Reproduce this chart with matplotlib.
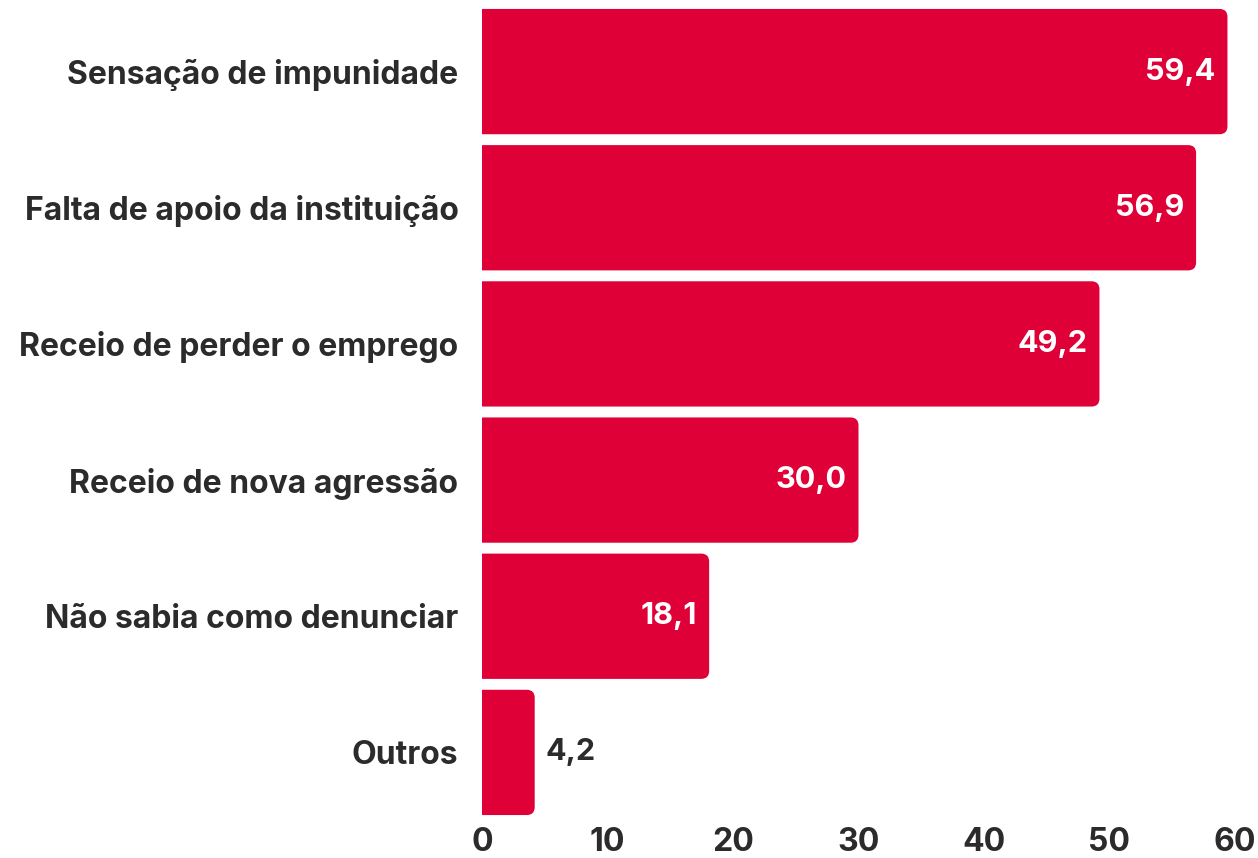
import matplotlib

matplotlib.use("Agg")
import matplotlib.pyplot as plt
from matplotlib.patches import FancyBboxPatch

categories = [
    "Sensação de impunidade",
    "Falta de apoio da instituição",
    "Receio de perder o emprego",
    "Receio de nova agressão",
    "Não sabia como denunciar",
    "Outros",
]
values = [59.4, 56.9, 49.2, 30.0, 18.1, 4.2]
x_ticks = [0, 10, 20, 30, 40, 50, 60]

BAR_COLOR = "#E00038"
TEXT_COLOR = "#2B2B2B"
W, H, DPI = 1258, 858, 100
X0_PX, X60_PX = 482, 1235

plt.rcParams.update({
    "font.family": ["Inter", "DejaVu Sans"],
    "font.weight": "bold",
})

fig = plt.figure(figsize=(W / DPI, H / DPI), dpi=DPI)
ax = fig.add_axes([X0_PX / W, 1 - 820.5 / H, (X60_PX - X0_PX) / W, 817 / H])

pos = list(range(len(categories)))
bars = ax.barh(pos, values, height=0.92, color=BAR_COLOR)
ax.set_xlim(0, 60)
ax.set_ylim(len(categories) - 0.5, -0.5)

# swap plain rectangles for ones rounded on the right end only
px_x = (X60_PX - X0_PX) / 60
px_y = 817 / 6
r = 8 / px_x
for b in bars:
    x0, y0, w, h = b.get_x(), b.get_y(), b.get_width(), b.get_height()
    b.set_visible(False)
    p = FancyBboxPatch(
        (x0 - 2, y0), w + 2, h,
        boxstyle=f"round,pad=0,rounding_size={r}",
        mutation_aspect=px_x / px_y,
        facecolor=BAR_COLOR, edgecolor="none", clip_on=True,
    )
    ax.add_patch(p)
    p.set_clip_path(ax.patch)

for i, v in enumerate(values):
    lab = f"{v:.1f}".replace(".", ",")
    if v > 10:
        ax.text(v - 12 / px_x, i, lab, ha="right", va="center",
                color="white", fontsize=22, fontweight="bold")
    else:
        ax.text(v + 11 / px_x, i, lab, ha="left", va="center",
                color=TEXT_COLOR, fontsize=22, fontweight="bold")

ax.set_yticks(pos)
ax.set_yticklabels(categories, fontsize=23, fontweight="bold", color=TEXT_COLOR)
ax.set_xticks(x_ticks)
ax.set_xticklabels([str(t) for t in x_ticks], fontsize=23, fontweight="bold",
                   color=TEXT_COLOR)
ax.tick_params(axis="y", length=0, pad=17)
ax.tick_params(axis="x", length=0, pad=5)
for s in ax.spines.values():
    s.set_visible(False)

fig.savefig("out.png", dpi=DPI)
